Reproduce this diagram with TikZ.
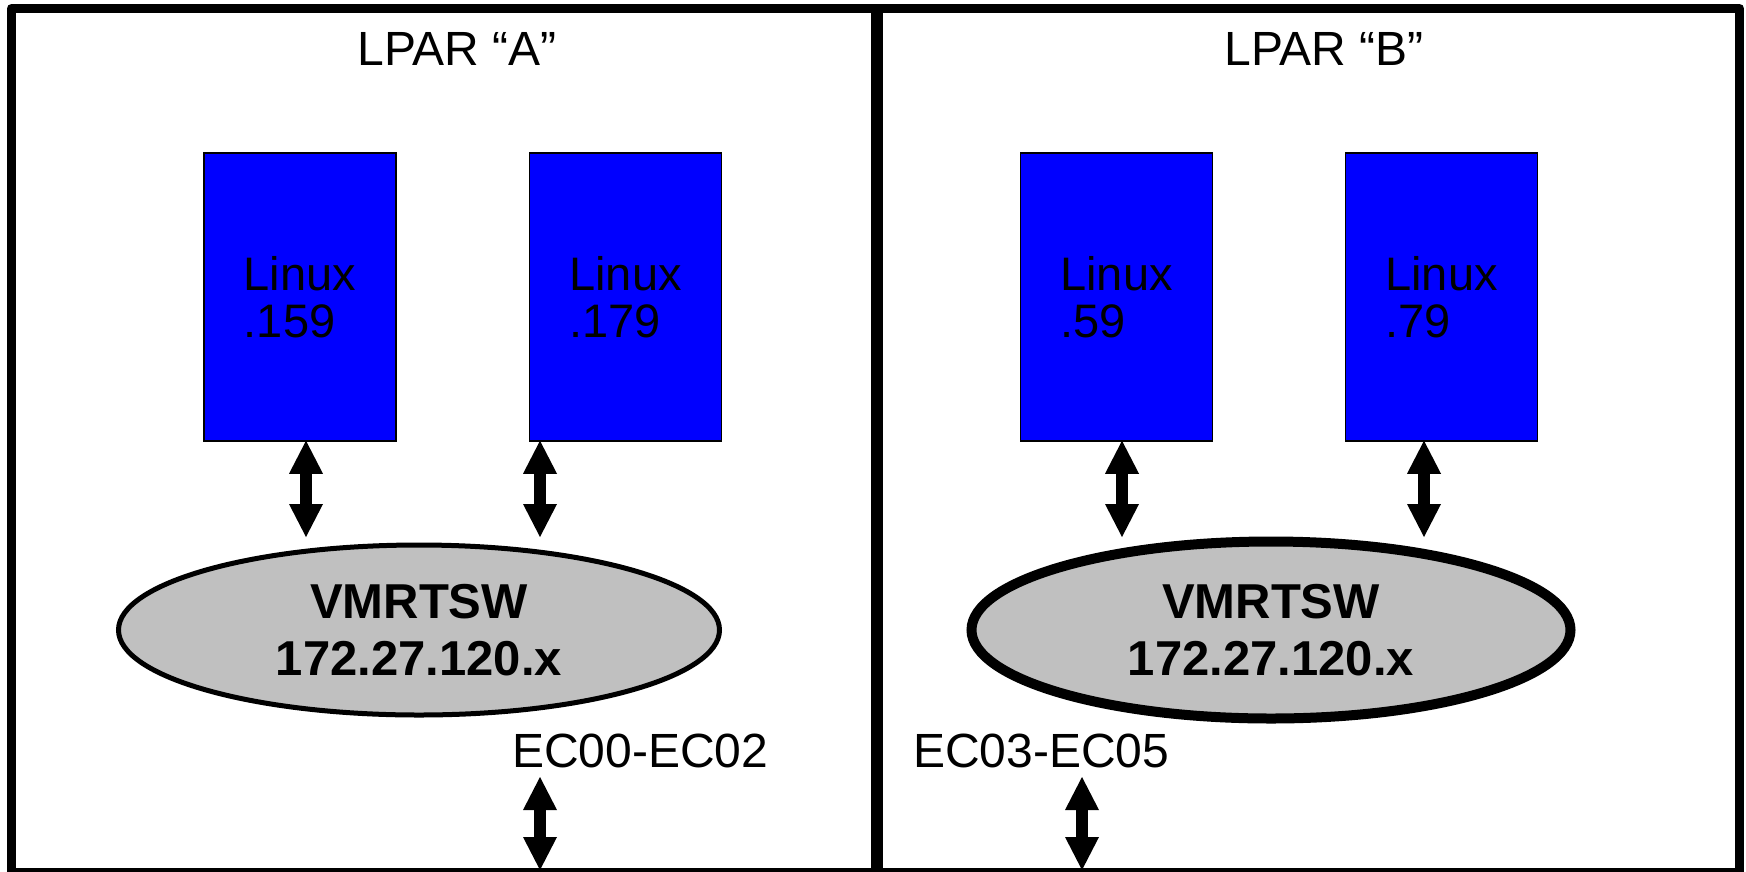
\documentclass[tikz,border=0pt]{standalone}
\usepackage{fontspec}
\setmainfont{Liberation Sans}
\usetikzlibrary{shapes.geometric,arrows.meta}
\definecolor{vmblue}{RGB}{0,0,255}
\definecolor{swgray}{RGB}{192,192,192}
\begin{document}
\begin{tikzpicture}[x=1pt,y=-1pt,
  linuxbox/.style={draw=black, line width=1.5pt, fill=vmblue, minimum width=192pt, minimum height=288pt, inner sep=0pt, align=left, font=\fontsize{47}{47}\selectfont},
  switch/.style={ellipse, draw=black, fill=swgray, inner sep=0pt, outer sep=0pt, align=center, font=\bfseries\fontsize{49}{57}\selectfont},
  title/.style={anchor=base, font=\fontsize{48}{48}\selectfont, inner sep=0pt},
  eclabel/.style={anchor=base west, font=\fontsize{48}{48}\selectfont, inner sep=0pt},
  dbl/.style={line width=12pt, {Triangle[length=33pt,width=34pt,line width=0pt]}-{Triangle[length=33pt,width=34pt,line width=0pt]}},
  frame/.style={line width=9pt, line join=round}
]
\useasboundingbox (0,0) rectangle (1746,871);
\clip (0,0) rectangle (1746,871);

% LPAR frames
\draw[frame] (11.5,8.5) rectangle (1739.5,872.5);
\draw[line width=12pt] (877,8.5) -- (877,872.5);

% titles
\node[title] (ta) at (457,65) {LPAR “A”};
\node[title] (tb) at (1324,65) {LPAR “B”};

% Linux guests
\node[linuxbox] (a1) at (300,297) {Linux\\.159};
\node[linuxbox] (a2) at (625.5,297) {Linux\\.179};
\node[linuxbox] (b1) at (1116.5,297) {Linux\\.59};
\node[linuxbox] (b2) at (1441.5,297) {Linux\\.79};

% switches
\node[switch, line width=5pt, minimum width=601pt, minimum height=170pt] (swa) at (419,630) {VMRTSW\\172.27.120.x};
\node[switch, line width=10pt, minimum width=599pt, minimum height=177pt] (swb) at (1271,630) {VMRTSW\\172.27.120.x};

% arrow ends
\coordinate (a1e) at (306,537);
\coordinate (a2e) at (540,537);
\coordinate (b1e) at (1122,537);
\coordinate (b2e) at (1424,537);

\draw[dbl] ([xshift=6pt,yshift=1pt]a1.south) -- (a1e);
\draw[dbl] ([xshift=-85.5pt,yshift=1pt]a2.south) -- (a2e);
\draw[dbl] ([xshift=5.5pt,yshift=1pt]b1.south) -- (b1e);
\draw[dbl] ([xshift=-17.5pt,yshift=1pt]b2.south) -- (b2e);

% EC labels and uplinks
\node[eclabel] (eca) at (512,767) {EC00-EC02};
\node[eclabel] (ecb) at (913,767) {EC03-EC05};
\coordinate (upa) at (540,777);
\coordinate (dna) at (540,870);
\coordinate (upb) at (1082,777);
\coordinate (dnb) at (1082,870);
\draw[dbl] (upa) -- (dna);
\draw[dbl] (upb) -- (dnb);
\end{tikzpicture}
\end{document}
